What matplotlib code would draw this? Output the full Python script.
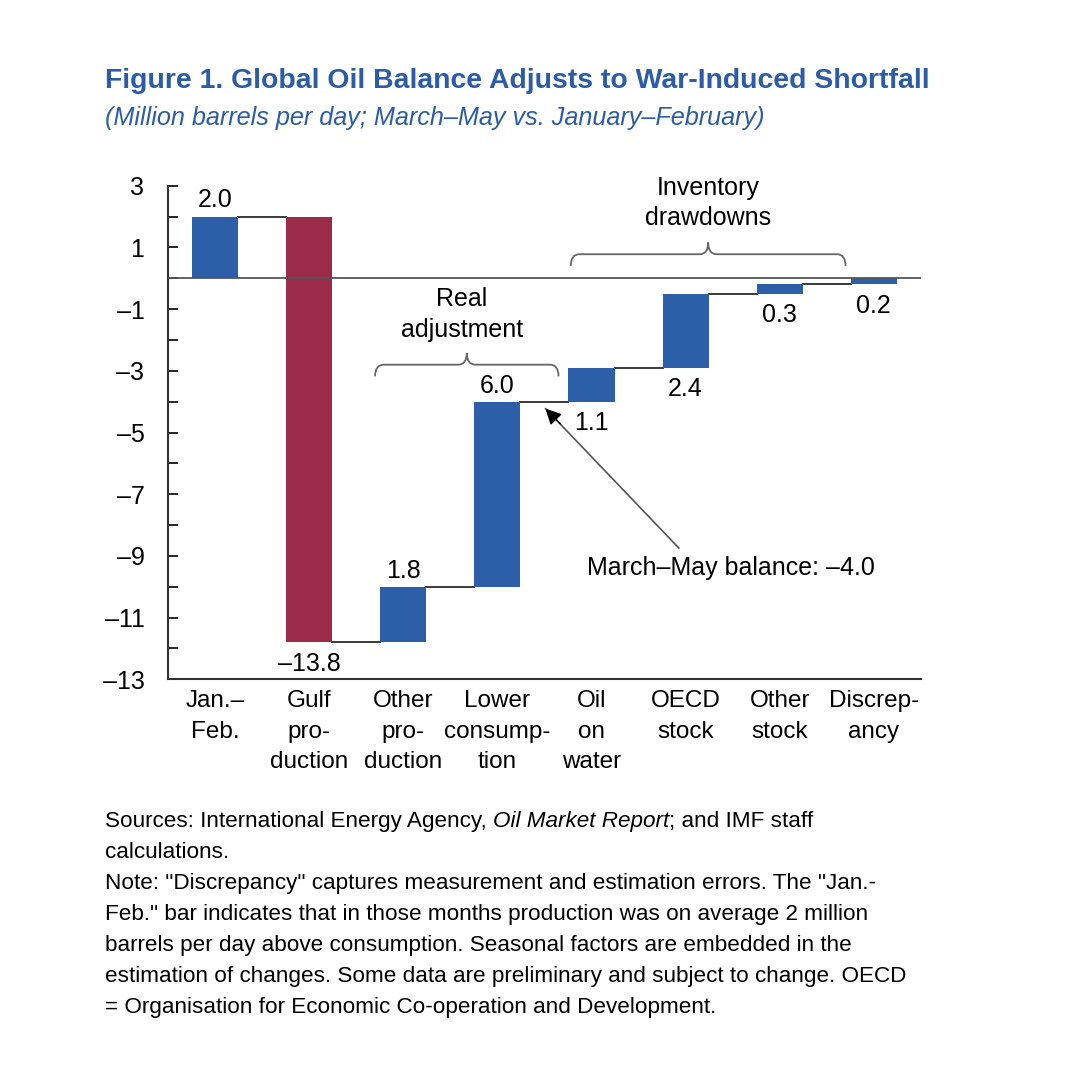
import matplotlib
matplotlib.use("Agg")
import matplotlib.pyplot as plt
from matplotlib.path import Path
from matplotlib.patches import PathPatch

plt.rcParams['font.family'] = ['Liberation Sans', 'DejaVu Sans']

# data
categories = ['Jan.–\nFeb.', 'Gulf\npro-\nduction', 'Other\npro-\nduction',
              'Lower\nconsump-\ntion', 'Oil\non\nwater', 'OECD\nstock',
              'Other\nstock', 'Discrep-\nancy']
changes = [2.0, -13.8, 1.8, 6.0, 1.1, 2.4, 0.3, 0.2]
balance_label = 'March–May balance: –4.0'
yticks = list(range(-13, 4))
ylabels = [str(v).replace('-', '–') if v % 2 else '' for v in yticks]

BLUE = '#2C5FA8'
RED = '#9B2B4B'
TITLE_BLUE = '#2D5CA6'

bar_colors = [RED if c < -5 else BLUE for c in changes]
label_above = [True, False, True, True, False, False, False, False]

# waterfall bases
starts = []
total = 0.0
for c in changes:
    starts.append(total)
    total += c
ends = [s + c for s, c in zip(starts, changes)]

fig = plt.figure(figsize=(10.67, 10.8), dpi=100)
ax = fig.add_axes([0.1575, 0.371, 0.7055, 0.457])

x = list(range(len(categories)))
width = 0.49
ax.bar(x, changes, bottom=starts, width=width, color=bar_colors, zorder=2)

# connectors
for i in range(len(changes) - 1):
    ax.plot([i + width / 2, i + 1 - width / 2], [ends[i], ends[i]],
            color='#3a3a3a', lw=1.4, zorder=1)

ax.axhline(0, color='#555555', lw=1.3, zorder=3)

# value labels
for i, c in enumerate(changes):
    txt = f'{c:.1f}'.replace('-', '–')
    if label_above[i]:
        ax.annotate(txt, (i, max(starts[i], ends[i])), xytext=(0, 3),
                    textcoords='offset points', ha='center', va='bottom', fontsize=18)
    else:
        ax.annotate(txt, (i, min(starts[i], ends[i])), xytext=(0, -7),
                    textcoords='offset points', ha='center', va='top', fontsize=18)

ax.set_xlim(-0.5, 7.5)
ax.set_ylim(-13, 3)
ax.set_yticks(yticks)
ax.set_yticklabels(ylabels)
ax.set_xticks(x)
ax.set_xticklabels(categories, fontsize=17.5, linespacing=1.5)
ax.tick_params(axis='y', direction='in', length=7, width=1.2, labelsize=18, pad=17)
ax.tick_params(axis='x', length=0, pad=8)
for s in ['top', 'right']:
    ax.spines[s].set_visible(False)
for s in ['left', 'bottom']:
    ax.spines[s].set_linewidth(1.5)
    ax.spines[s].set_color('#333333')


def brace(x0, x1, y, h=0.38, r=0.09):
    xc = (x0 + x1) / 2
    verts = [(x0, y - h), (x0, y), (x0 + r, y), (xc - r, y), (xc, y), (xc, y + h),
             (xc, y), (xc + r, y), (x1 - r, y), (x1, y), (x1, y - h)]
    codes = [Path.MOVETO, Path.CURVE3, Path.CURVE3, Path.LINETO, Path.CURVE3, Path.CURVE3,
             Path.CURVE3, Path.CURVE3, Path.LINETO, Path.CURVE3, Path.CURVE3]
    ax.add_patch(PathPatch(Path(verts, codes), fill=False, ec='#666666', lw=1.3))
    return xc


xc = brace(1.70, 3.65, -2.8)
ax.text(xc - 0.05, -2.05, 'Real\nadjustment', ha='center', va='bottom', fontsize=18,
        linespacing=1.35)
xc = brace(3.78, 6.70, 0.78)
ax.text(xc, 1.55, 'Inventory\ndrawdowns', ha='center', va='bottom', fontsize=18,
        linespacing=1.35)

# arrow: thin grey shaft, black head
tip = (3.51, -4.22)
ax.annotate('', xy=tip, xytext=(4.93, -8.75),
            arrowprops=dict(arrowstyle='-', color='#555555', lw=1.2,
                            shrinkA=0, shrinkB=0))
ax.annotate('', xy=tip, xytext=(tip[0] + 0.16, tip[1] - 0.5),
            arrowprops=dict(arrowstyle='-|>', color='black', lw=1.0,
                            mutation_scale=24, shrinkA=0, shrinkB=0))
ax.text(5.48, -9.38, balance_label, ha='center', va='center', fontsize=18)

# titles
fig.text(0.098, 0.925, 'Figure 1. Global Oil Balance Adjusts to War-Induced Shortfall',
         color=TITLE_BLUE, fontsize=20.4, fontweight='bold', va='center')
fig.text(0.098, 0.891, '(Million barrels per day; March–May vs. January–February)',
         color=TITLE_BLUE, fontsize=18.2, style='italic', va='center')

# footnotes
fs = 16.2
y0 = 1 - 827 / 1080
step = 31 / 1080
t1 = fig.text(0.098, y0, 'Sources: International Energy Agency, ', fontsize=fs, va='baseline')
t2 = fig.text(0, 0, 'Oil Market Report', fontsize=fs, style='italic', va='baseline')
t3 = fig.text(0, 0, '; and IMF staff', fontsize=fs, va='baseline')
fig.canvas.draw()
r = fig.canvas.get_renderer()
bb1 = t1.get_window_extent(r)
t2.set_position((bb1.x1 / fig.bbox.width, y0))
fig.canvas.draw()
bb2 = t2.get_window_extent(r)
t3.set_position((bb2.x1 / fig.bbox.width, y0))

note_lines = [
    'calculations.',
    'Note: "Discrepancy" captures measurement and estimation errors. The "Jan.-',
    'Feb." bar indicates that in those months production was on average 2 million',
    'barrels per day above consumption. Seasonal factors are embedded in the',
    'estimation of changes. Some data are preliminary and subject to change. OECD',
    '= Organisation for Economic Co-operation and Development.',
]
for k, line in enumerate(note_lines):
    fig.text(0.098, y0 - (k + 1) * step, line, fontsize=fs, va='baseline')

fig.savefig('out.png', dpi=100)
